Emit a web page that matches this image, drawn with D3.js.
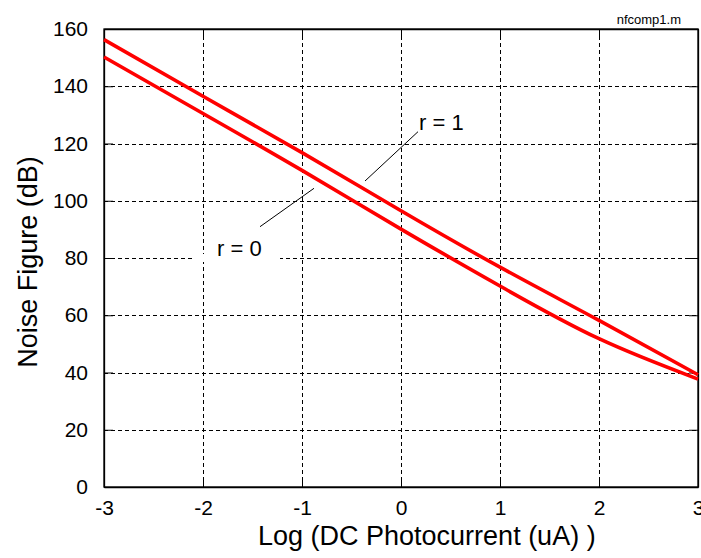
<!DOCTYPE html>
<html>
<head>
<meta charset="utf-8">
<script src="https://cdn.jsdelivr.net/npm/d3@7"></script>
<style>
  body { margin: 0; background: #fff; }
  svg text { font-family: "Liberation Sans", Arial, sans-serif; fill: #000; }
</style>
</head>
<body>
<script>
// values
var logCurrent = [-3, -2, -1, 0, 1, 2, 3];
var nfR1 = [156.3, 136.5, 116.8, 96.5, 76.8, 58.2, 39.2];
var nfR0 = [150.2, 130.5, 110.6, 90.1, 70.2, 51.8, 37.7];
var xTicks = [-3, -2, -1, 0, 1, 2, 3];
var yTicks = [0, 20, 40, 60, 80, 100, 120, 140, 160];

var width = 701, height = 558;
var margin = {top: 29, right: 3, bottom: 71, left: 104};
var w = width - margin.left - margin.right,
    h = height - margin.top - margin.bottom;

var svg = d3.select("body").append("svg")
  .attr("width", width)
  .attr("height", height);

var x = d3.scaleLinear().domain([-3, 3]).range([0, w]);
var y = d3.scaleLinear().domain([0, 160]).range([h, 0]);

var g = svg.append("g")
  .attr("transform", "translate(" + margin.left + "," + margin.top + ")");

// grid
g.selectAll(".vgrid").data(xTicks).enter().append("line")
  .attr("x1", function(d) { return Math.round(x(d)) + 0.5; })
  .attr("x2", function(d) { return Math.round(x(d)) + 0.5; })
  .attr("y1", 0).attr("y2", h)
  .attr("stroke", "#000").attr("stroke-dasharray", "4,3");
g.selectAll(".hgrid").data(yTicks).enter().append("line")
  .attr("y1", function(d) { return Math.round(y(d)) + 0.5; })
  .attr("y2", function(d) { return Math.round(y(d)) + 0.5; })
  .attr("x1", 0).attr("x2", w)
  .attr("stroke", "#000").attr("stroke-dasharray", "4,3");

// white patch behind the r = 0 label
g.append("rect")
  .attr("x", 89).attr("y", y(80) - 4)
  .attr("width", 87).attr("height", 8)
  .attr("fill", "#fff");

// axes
var fmt = function(d) { return String(d); };
var xAxis = d3.axisBottom(x).tickValues(xTicks).tickFormat(fmt).tickSizeInner(-9).tickSizeOuter(0).tickPadding(13);
var yAxis = d3.axisLeft(y).tickValues(yTicks).tickFormat(fmt).tickSizeInner(-9).tickSizeOuter(0).tickPadding(16);

var gx = g.append("g").attr("transform", "translate(0," + h + ")").call(xAxis);
var gy = g.append("g").call(yAxis);
g.append("g").call(d3.axisTop(x).tickValues(xTicks).tickSizeInner(-9).tickSizeOuter(0).tickFormat(""));
g.append("g").attr("transform", "translate(" + w + ",0)")
  .call(d3.axisRight(y).tickValues(yTicks).tickSizeInner(-9).tickSizeOuter(0).tickFormat(""));

svg.selectAll(".domain").attr("stroke", "#000").attr("stroke-width", 1.3);
svg.selectAll(".tick line").attr("stroke", "#000");
[gx, gy].forEach(function(a) {
  a.selectAll("text")
    .style("font-family", "'Liberation Sans', Arial, sans-serif")
    .style("font-size", "21px")
    .attr("fill", "#2a2a2a");
});
gx.selectAll("text").attr("dy", "0.71em");
g.append("rect").attr("width", w).attr("height", h)
  .attr("fill", "none").attr("stroke", "#000").attr("stroke-width", 1.3);

// curves
var line = d3.line()
  .x(function(d, i) { return x(logCurrent[i]); })
  .y(function(d) { return y(d); })
  .curve(d3.curveNatural);

[nfR1, nfR0].forEach(function(s) {
  g.append("path")
    .attr("d", line(s))
    .attr("fill", "none")
    .attr("stroke", "#ff0000")
    .attr("stroke-width", 3.6);
});

// annotations
g.append("line")
  .attr("x1", 314).attr("y1", 102.7).attr("x2", 261).attr("y2", 152)
  .attr("stroke", "#000").attr("stroke-width", 1);
g.append("text").attr("x", 315).attr("y", 101)
  .style("font-size", "22px").attr("fill", "#2a2a2a").text("r = 1");

g.append("line")
  .attr("x1", 210).attr("y1", 159.3).attr("x2", 156).attr("y2", 197.7)
  .attr("stroke", "#000").attr("stroke-width", 1);
g.append("text").attr("x", 113).attr("y", 227)
  .style("font-size", "22px").attr("fill", "#2a2a2a").text("r = 0");

// labels
svg.append("text")
  .attr("x", 258).attr("y", 545)
  .style("font-size", "27px")
  .text("Log (DC Photocurrent (uA) )");

svg.append("text")
  .attr("transform", "translate(37,262) rotate(-90)")
  .attr("text-anchor", "middle")
  .style("font-size", "27px")
  .text("Noise Figure (dB)");

svg.append("text")
  .attr("x", 681).attr("y", 24)
  .attr("text-anchor", "end")
  .style("font-size", "13px")
  .text("nfcomp1.m");
</script>
</body>
</html>
